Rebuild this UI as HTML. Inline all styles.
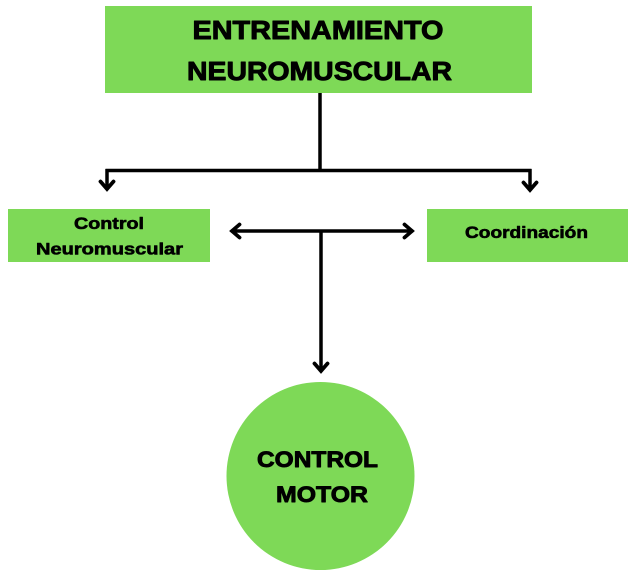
<!DOCTYPE html>
<html>
<head>
<meta charset="utf-8">
<style>
  html,body{margin:0;padding:0;background:#fff;}
  svg{display:block;}
  text{font-family:"Liberation Sans",Arial,sans-serif;font-weight:bold;fill:#000;stroke:#000;stroke-width:0.9;stroke-linejoin:round;}
</style>
</head>
<body>
<svg width="636" height="574" viewBox="0 0 636 574" xmlns="http://www.w3.org/2000/svg">
  <rect x="0" y="0" width="636" height="574" fill="#ffffff"/>
  <!-- Top box -->
  <rect x="105" y="6" width="427" height="87" fill="#7ed957"/>
  <text x="192.5" y="39" font-size="25.5" textLength="251" lengthAdjust="spacingAndGlyphs">ENTRENAMIENTO</text>
  <text x="187" y="80" font-size="25.5" textLength="265" lengthAdjust="spacingAndGlyphs">NEUROMUSCULAR</text>

  <!-- connectors top -->
  <g stroke="#000" stroke-width="3.5" fill="none" stroke-linecap="butt">
    <line x1="320" y1="93" x2="320" y2="170.5"/>
    <line x1="105.5" y1="170.5" x2="531.5" y2="170.5"/>
    <line x1="107" y1="169" x2="107" y2="189"/>
    <line x1="530" y1="169" x2="530" y2="190"/>
  </g>
  <g stroke="#000" stroke-width="3.8" fill="none" stroke-linejoin="miter" stroke-linecap="round">
    <polyline points="100.5,181.5 107,189 113.5,181.5"/>
    <polyline points="523.5,182.5 530,190 536.5,182.5"/>
  </g>

  <!-- Side boxes -->
  <rect x="8" y="209" width="202" height="53" fill="#7ed957"/>
  <text x="74" y="229" font-size="17" textLength="70" lengthAdjust="spacingAndGlyphs" style="stroke-width:0.6">Control</text>
  <text x="36" y="254.5" font-size="16.5" textLength="147" lengthAdjust="spacingAndGlyphs" style="stroke-width:0.6">Neuromuscular</text>

  <rect x="427" y="209" width="201" height="53" fill="#7ed957"/>
  <text x="465" y="238" font-size="17" textLength="123" lengthAdjust="spacingAndGlyphs" style="stroke-width:0.6">Coordinación</text>

  <!-- middle connectors -->
  <g stroke="#000" stroke-width="3.5" fill="none" stroke-linecap="round" stroke-linejoin="miter">
    <line x1="232" y1="231" x2="412" y2="231"/>
    <polyline points="239.5,224.5 232,231 239.5,237.5" stroke-width="3.8"/>
    <polyline points="404.5,224.5 412,231 404.5,237.5" stroke-width="3.8"/>
    <line x1="321" y1="231" x2="321" y2="371" stroke-linecap="butt"/>
    <polyline points="314.5,363.5 321,371 327.5,363.5" stroke-width="3.8"/>
  </g>

  <!-- circle -->
  <circle cx="320.5" cy="476" r="94" fill="#7ed957"/>
  <text x="257" y="467" font-size="22.5" textLength="121" lengthAdjust="spacingAndGlyphs">CONTROL</text>
  <text x="276" y="502" font-size="22.5" textLength="92" lengthAdjust="spacingAndGlyphs">MOTOR</text>
</svg>
</body>
</html>
